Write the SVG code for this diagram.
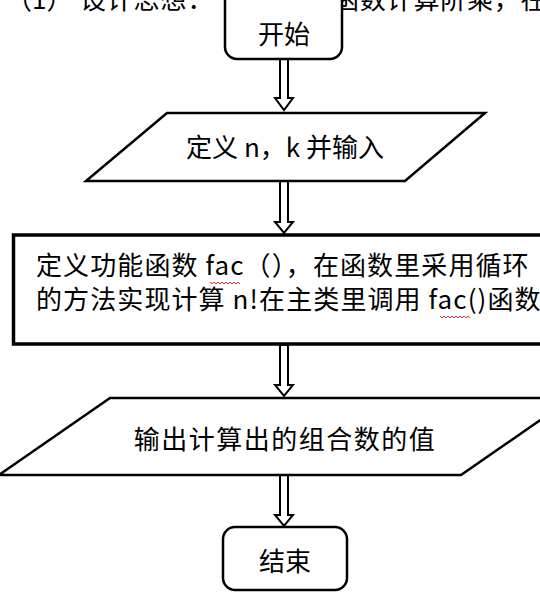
<svg xmlns="http://www.w3.org/2000/svg" width="540" height="608" viewBox="0 0 540 608">
<style>
.t{font-family:"Noto Sans CJK SC","Liberation Sans",sans-serif;font-size:26px;fill:#000}
.m{text-anchor:middle}
.s{fill:#fff;stroke:#000;stroke-width:2.5}
.a{fill:#fff;stroke:#000;stroke-width:2}
.w{fill:none;stroke:#e03030;stroke-width:1}
</style>
<rect width="540" height="608" fill="#fff"/>
<g id="bgtext">
<text class="t" x="6" y="9">（1）</text>
<text class="t" x="80" y="9" letter-spacing="0.8">设计思想：</text>
<text class="t" x="333" y="9" letter-spacing="0.8">函数计算阶乘，在</text>
</g>
<g id="connectors">
<path class="a" d="M280,59 V98 H275 L284,110 L293,98 H288 V59 Z"/>
<path class="a" d="M280,181 V222 H275 L284,233 L293,222 H288 V181 Z"/>
<path class="a" d="M280,345 V385 H275 L284,396 L293,385 H288 V345 Z"/>
<path class="a" d="M280,475 V515 H275 L284,526 L293,515 H288 V475 Z"/>
</g>
<g id="start">
<rect class="s" x="225" y="-14" width="117" height="73" rx="12"/>
<text class="t m" x="284" y="44">开始</text>
</g>
<g id="input">
<polygon class="s" points="167,113 485,113 405,181 86,181"/>
<text class="t m" x="285" y="157">定义 n，k 并输入</text>
</g>
<g id="process">
<rect x="13.5" y="235" width="540" height="109" fill="#fff" stroke="#000" stroke-width="3.5"/>
<text class="t" x="36" y="275" letter-spacing="1.1">定义功能函数 fac（），在函数里采用循环</text>
<text class="t" x="36" y="309" letter-spacing="1.1">的方法实现计算 n!在主类里调用 fac()函数</text>
<path class="w" d="M210,282 l2,2 l2,-2 l2,2 l2,-2 l2,2 l2,-2 l2,2 l2,-2 l2,2 l2,-2 l2,2 l2,-2 l2,2 l2,-2 l2,2"/>
<path class="w" d="M440,316 l2,2 l2,-2 l2,2 l2,-2 l2,2 l2,-2 l2,2 l2,-2 l2,2 l2,-2 l2,2 l2,-2 l2,2 l2,-2 l2,2"/>
</g>
<g id="output">
<polygon class="s" points="110,398 572,398 461,475 -1,475"/>
<text class="t m" x="285" y="449" letter-spacing="1.5">输出计算出的组合数的值</text>
</g>
<g id="end">
<rect class="s" x="223" y="527" width="124" height="63" rx="12"/>
<text class="t m" x="285" y="571">结束</text>
</g>
</svg>
